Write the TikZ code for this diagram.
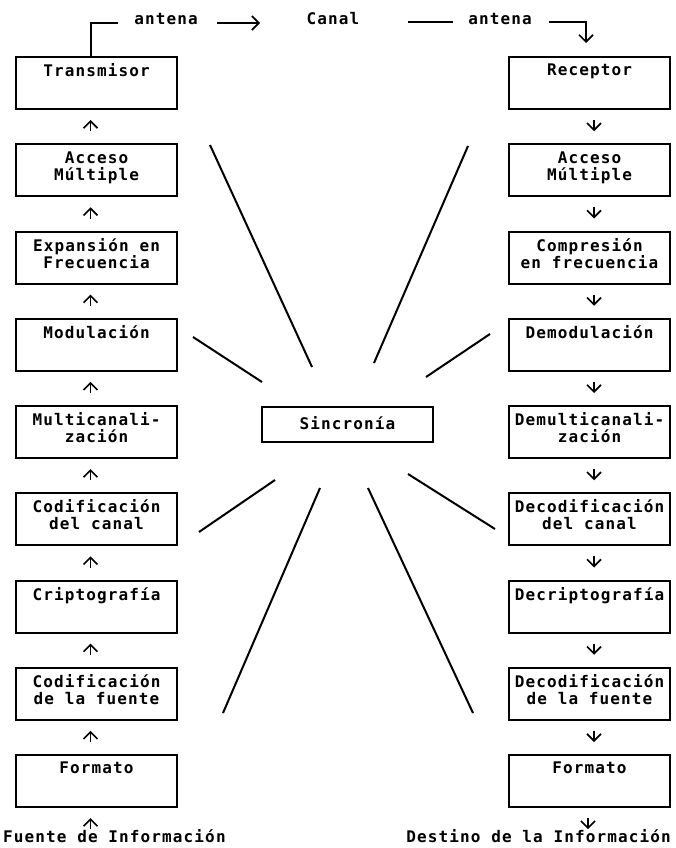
\documentclass[tikz,border=0pt]{standalone}
\usepackage{fontspec}
\newfontfamily\prnfont[LetterSpace=7]{DejaVu Sans Mono}
\usetikzlibrary{arrows.meta}

\begin{document}
\begin{tikzpicture}[x=1pt, y=-1pt,
		bloque/.style={draw, line width=2pt, minimum width=161pt, minimum height=52pt, inner sep=1pt, text depth=9pt, align=center, font=\prnfont\bfseries\fontsize{16}{17}\selectfont},
		rotulo/.style={inner sep=0pt, font=\prnfont\bfseries\fontsize{16}{17}\selectfont},
		linea/.style={line width=2pt},
		flecha/.style={line width=1.7pt, -{Straight Barb[length=7pt, width=14pt]}},
		subir/.style={flecha, shorten <=12pt, shorten >=10pt},
		bajar/.style={flecha, shorten <=10pt, shorten >=12pt}]
	\useasboundingbox (0, 0) rectangle (676, 848);
	% emisor
	\node[bloque] (tx) at (96.5, 83) {Transmisor\\ \mbox{}};
	\node[bloque] (accTx) at (96.5, 170.25) {Acceso\\Múltiple};
	\node[bloque] (expTx) at (96.5, 257.5) {Expansión en\\Frecuencia};
	\node[bloque] (modTx) at (96.5, 344.75) {Modulación\\ \mbox{}};
	\node[bloque] (mulTx) at (96.5, 432) {Multicanali-\\zación};
	\node[bloque] (codcTx) at (96.5, 519.25) {Codificación\\del canal};
	\node[bloque] (cripTx) at (96.5, 606.5) {Criptografía\\ \mbox{}};
	\node[bloque] (codfTx) at (96.5, 693.75) {Codificación\\de la fuente};
	\node[bloque] (fmtTx) at (96.5, 781) {Formato\\ \mbox{}};
	% receptor
	\node[bloque] (rx) at (589.5, 83) {Receptor\\ \mbox{}};
	\node[bloque] (accRx) at (589.5, 170.25) {Acceso\\Múltiple};
	\node[bloque] (comRx) at (589.5, 257.5) {Compresión\\en frecuencia};
	\node[bloque] (demRx) at (589.5, 344.75) {Demodulación\\ \mbox{}};
	\node[bloque] (dmuRx) at (589.5, 432) {Demulticanali-\\zación};
	\node[bloque] (decRx) at (589.5, 519.25) {Decodificación\\del canal};
	\node[bloque] (decrRx) at (589.5, 606.5) {Decriptografía\\ \mbox{}};
	\node[bloque] (decfRx) at (589.5, 693.75) {Decodificación\\de la fuente};
	\node[bloque] (fmtRx) at (589.5, 781) {Formato\\ \mbox{}};
	% sincronia
	\node[bloque, minimum width=171pt, minimum height=35pt, text depth=3pt] (sinc) at (347.5, 424.5) {Sincronía};
	% canal
	\node[rotulo] (antTx) at (166, 19) {antena};
	\node[rotulo] (canal) at (333, 19) {Canal};
	\node[rotulo] (antRx) at (500, 19) {antena};
	\node[rotulo, anchor=west] (fuente) at (3, 836) {Fuente de Información};
	\node[rotulo, anchor=east] (destino) at (671, 836) {Destino de la Información};
	\coordinate (c1) at (118, 23);
	\coordinate (c2) at (217, 23);
	\coordinate (c3) at (260, 23);
	\coordinate (c4) at (408, 22);
	\coordinate (c5) at (453, 22);
	\coordinate (c6) at (549, 22);
	\draw[linea] ([xshift=-5.5pt]tx.north) |- (c1);
	\draw[flecha] (c2) -- (c3);
	\draw[linea] (c4) -- (c5);
	\draw[flecha, shorten >=13pt] (c6) -| ([xshift=-3.5pt]rx.north);
	% flechas del emisor
	\draw[subir] ([xshift=-6pt]accTx.north) -- ([xshift=-6pt]tx.south);
	\draw[subir] ([xshift=-6pt]expTx.north) -- ([xshift=-6pt]accTx.south);
	\draw[subir] ([xshift=-6pt]modTx.north) -- ([xshift=-6pt]expTx.south);
	\draw[subir] ([xshift=-6pt]mulTx.north) -- ([xshift=-6pt]modTx.south);
	\draw[subir] ([xshift=-6pt]codcTx.north) -- ([xshift=-6pt]mulTx.south);
	\draw[subir] ([xshift=-6pt]cripTx.north) -- ([xshift=-6pt]codcTx.south);
	\draw[subir] ([xshift=-6pt]codfTx.north) -- ([xshift=-6pt]cripTx.south);
	\draw[subir] ([xshift=-6pt]fmtTx.north) -- ([xshift=-6pt]codfTx.south);
	\draw[flecha, shorten >=10pt] ([xshift=-6pt]fmtTx.south |- fuente.north) -- ([xshift=-6pt]fmtTx.south);
	% flechas del receptor
	\draw[bajar] ([xshift=4.5pt]rx.south) -- ([xshift=4.5pt]accRx.north);
	\draw[bajar] ([xshift=4.5pt]accRx.south) -- ([xshift=4.5pt]comRx.north);
	\draw[bajar] ([xshift=4.5pt]comRx.south) -- ([xshift=4.5pt]demRx.north);
	\draw[bajar] ([xshift=4.5pt]demRx.south) -- ([xshift=4.5pt]dmuRx.north);
	\draw[bajar] ([xshift=4.5pt]dmuRx.south) -- ([xshift=4.5pt]decRx.north);
	\draw[bajar] ([xshift=4.5pt]decRx.south) -- ([xshift=4.5pt]decrRx.north);
	\draw[bajar] ([xshift=4.5pt]decrRx.south) -- ([xshift=4.5pt]decfRx.north);
	\draw[bajar] ([xshift=4.5pt]decfRx.south) -- ([xshift=4.5pt]fmtRx.north);
	\draw[flecha, shorten <=10pt] ([xshift=-1.5pt]fmtRx.south) -- ([xshift=-1.5pt]fmtRx.south |- destino.north);
	% rayos de sincronia
	\draw[linea] (210, 145) -- (312, 367);
	\draw[linea] (468, 146) -- (374, 363);
	\draw[linea] (193, 337) -- (262, 382);
	\draw[linea] (490, 334) -- (426, 377);
	\draw[linea] (275, 480) -- (199, 532);
	\draw[linea] (320, 488) -- (223, 713);
	\draw[linea] (368, 488) -- (473, 713);
	\draw[linea] (408, 474) -- (495, 529);
\end{tikzpicture}
\end{document}
